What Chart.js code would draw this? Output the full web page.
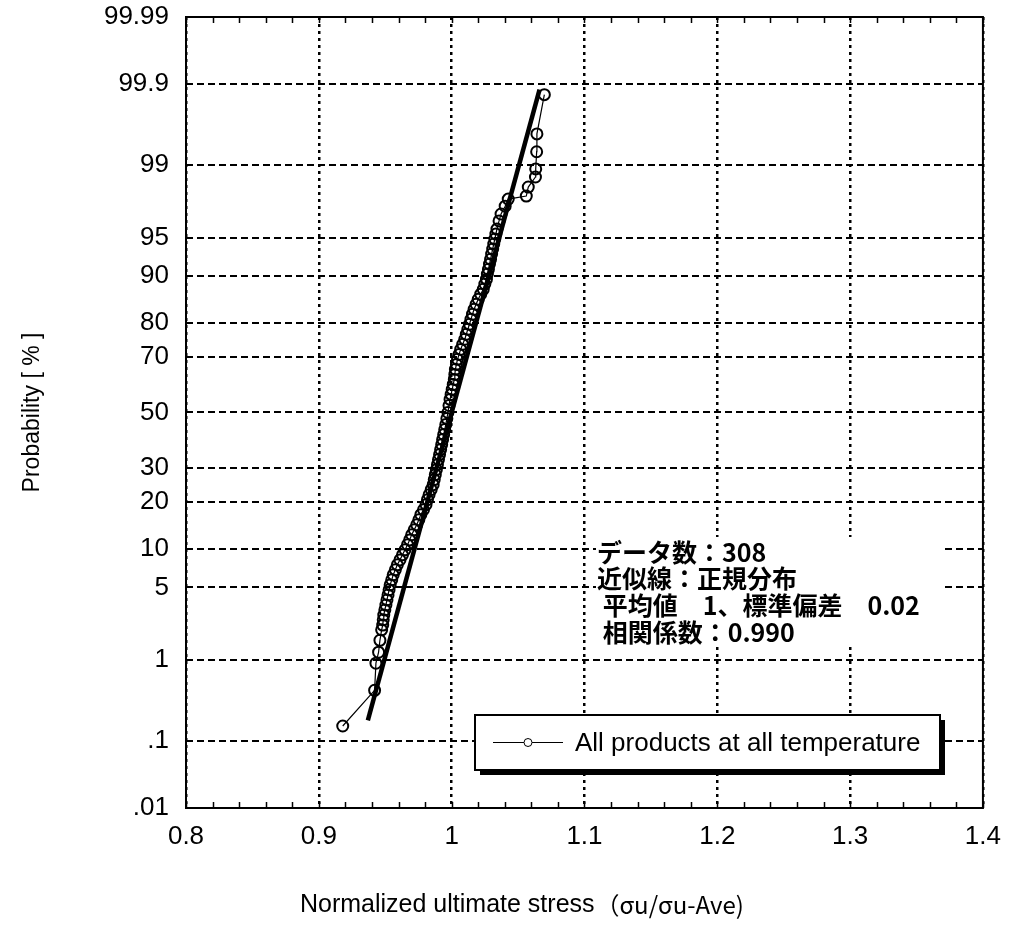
<!DOCTYPE html>
<html>
<head>
<meta charset="utf-8">
<script src="https://cdn.jsdelivr.net/npm/chart.js@4.4.0/dist/chart.umd.min.js"></script>
<style>
  html, body { margin: 0; padding: 0; background: #fff; }
  canvas { display: block; }
</style>
</head>
<body>
<canvas id="probChart" width="1014" height="946"></canvas>
<script>
// normalized ultimate stress, sorted, with its cumulative probability [%]
const stressValues = [
  0.918, 0.942, 0.943, 0.945, 0.946, 0.9473, 0.9481, 0.9485, 0.9489, 0.9497,
  0.9505, 0.9513, 0.9521, 0.9529, 0.9537, 0.9549, 0.9560, 0.9576, 0.9591, 0.9611,
  0.9630, 0.9649, 0.9668, 0.9684, 0.9699, 0.9718, 0.9737, 0.9753, 0.9768, 0.9788,
  0.9807, 0.9818, 0.9830, 0.9846, 0.9861, 0.9869, 0.9877, 0.9885, 0.9893, 0.9901,
  0.9909, 0.9917, 0.9925, 0.9932, 0.9940, 0.9948, 0.9956, 0.9964, 0.9972, 0.9980,
  0.9988, 0.9996, 1.0004, 1.0012, 1.0020, 1.0024, 1.0028, 1.0036, 1.0044, 1.0056,
  1.0068, 1.0083, 1.0099, 1.0110, 1.0122, 1.0134, 1.0145, 1.0157, 1.0169, 1.0184,
  1.0200, 1.0219, 1.0238, 1.0250, 1.0262, 1.0269, 1.0277, 1.0285, 1.0293, 1.0301,
  1.0309, 1.0317, 1.0325, 1.0333, 1.0341, 1.0357, 1.0372, 1.0403, 1.0426, 1.0562,
  1.0577, 1.0631, 1.0633, 1.0640, 1.0642, 1.0698
];
const probValues = [
  0.16, 0.45, 0.92, 1.21, 1.61, 2.05, 2.28, 2.56, 2.84, 3.17,
  3.51, 3.90, 4.31, 4.77, 5.25, 5.78, 6.34, 6.95, 7.60, 8.29,
  9.04, 9.83, 10.69, 11.55, 12.52, 13.49, 14.56, 15.66, 16.84, 18.03,
  19.30, 20.61, 21.97, 23.42, 24.88, 26.40, 27.94, 29.55, 31.18, 32.91,
  34.61, 36.37, 38.14, 39.95, 41.76, 43.65, 45.51, 47.73, 50.00, 52.63,
  54.89, 56.75, 58.59, 60.40, 62.20, 63.97, 65.76, 67.45, 69.15, 70.76,
  72.36, 73.93, 75.45, 76.88, 78.30, 79.64, 80.95, 82.23, 83.42, 84.57,
  85.65, 86.70, 87.67, 88.64, 89.50, 90.35, 91.10, 91.86, 92.52, 93.19,
  93.78, 94.34, 94.85, 95.33, 95.77, 96.42, 96.90, 97.38, 97.76, 97.91,
  98.30, 98.66, 98.90, 99.29, 99.56, 99.86
];

// normal fit
const sampleCount = 308;
const fitMean = 1;
const fitSd = 0.0218;
const corrCoef = 0.990;
const fitProbRange = [0.19, 99.88];

const xTicks = [0.8, 0.9, 1, 1.1, 1.2, 1.3, 1.4];
const yTicks = [0.01, 0.1, 1, 5, 10, 20, 30, 50, 70, 80, 90, 95, 99, 99.9, 99.99];
const yTickLabels = ['.01', '.1', '1', '5', '10', '20', '30', '50', '70', '80', '90', '95', '99', '99.9', '99.99'];
const seriesLabel = 'All products at all temperature';
const yTitle = 'Probability [ % ]';
const xTitleMain = 'Normalized ultimate stress ';
const xTitleUnit = '（σu/σu-Ave)';

// inverse of the standard normal CDF (Acklam)
function probit(p) {
  const a = [-3.969683028665376e+01, 2.209460984245205e+02, -2.759285104469687e+02, 1.383577518672690e+02, -3.066479806614716e+01, 2.506628277459239e+00];
  const b = [-5.447609879822406e+01, 1.615858368580409e+02, -1.556989798598866e+02, 6.680131188771972e+01, -1.328068155288572e+01];
  const c = [-7.784894002430293e-03, -3.223964580411365e-01, -2.400758277161838e+00, -2.549732539343734e+00, 4.374664141464968e+00, 2.938163982698783e+00];
  const d = [7.784695709041462e-03, 3.224671290700398e-01, 2.445134137142996e+00, 3.754408661907416e+00];
  const pLow = 0.02425;
  let q, r;
  if (p < pLow) {
    q = Math.sqrt(-2 * Math.log(p));
    return (((((c[0]*q + c[1])*q + c[2])*q + c[3])*q + c[4])*q + c[5]) / ((((d[0]*q + d[1])*q + d[2])*q + d[3])*q + 1);
  }
  if (p <= 1 - pLow) {
    q = p - 0.5; r = q * q;
    return (((((a[0]*r + a[1])*r + a[2])*r + a[3])*r + a[4])*r + a[5])*q / (((((b[0]*r + b[1])*r + b[2])*r + b[3])*r + b[4])*r + 1);
  }
  q = Math.sqrt(-2 * Math.log(1 - p));
  return -(((((c[0]*q + c[1])*q + c[2])*q + c[3])*q + c[4])*q + c[5]) / ((((d[0]*q + d[1])*q + d[2])*q + d[3])*q + 1);
}

function normCdf(z) {
  const t = 1 / (1 + 0.2316419 * Math.abs(z));
  const poly = t * (0.319381530 + t * (-0.356563782 + t * (1.781477937 + t * (-1.821255978 + t * 1.330274429))));
  const tail = Math.exp(-z * z / 2) / Math.sqrt(2 * Math.PI) * poly;
  return z >= 0 ? 1 - tail : tail;
}

// normal probability paper axis, values in percent
class ProbitScale extends Chart.Scale {
  static id = 'probit';
  static defaults = {};

  determineDataLimits() {
    this.min = this.options.min;
    this.max = this.options.max;
  }
  buildTicks() {
    return yTicks.map(v => ({ value: v }));
  }
  configure() {
    super.configure();
    this._zStart = probit(this.min / 100);
    this._zEnd = probit(this.max / 100);
  }
  getPixelForValue(v) {
    return this.getPixelForDecimal((probit(v / 100) - this._zStart) / (this._zEnd - this._zStart));
  }
  getValueForPixel(px) {
    return normCdf(this._zStart + this.getDecimalForPixel(px) * (this._zEnd - this._zStart)) * 100;
  }
  getLabelForValue(v) {
    return String(v);
  }
}
Chart.register(ProbitScale);

const points = stressValues.map((x, i) => ({ x: x, y: probValues[i] }));
const fitLine = fitProbRange.map(p => ({ x: fitMean + fitSd * probit(p / 100), y: p }));

const annotationLines = [
  'データ数：' + sampleCount,
  '近似線：正規分布',
  ' 平均値　' + fitMean + '、標準偏差　' + fitSd.toFixed(2),
  ' 相関係数：' + corrCoef.toFixed(3)
];

const decorPlugin = {
  id: 'decor',
  afterDraw(chart) {
    const ctx = chart.ctx;
    const ca = chart.chartArea;
    const xs = chart.scales.x;
    ctx.save();

    // stats box
    const bx = ca.left + 410, by = ca.top + 520;
    ctx.fillStyle = '#fff';
    ctx.fillRect(bx, by, 349, 108);
    ctx.fillStyle = '#000';
    ctx.font = 'bold 25px "Noto Sans CJK JP"';
    ctx.textAlign = 'left';
    ctx.textBaseline = 'middle';
    annotationLines.forEach((t, i) => {
      ctx.fillText(t, bx + 1, ca.top + 535 + i * 26.7);
    });

    // legend with shadow
    const lx = ca.left + 289, ly = ca.top + 698, lw = 465, lh = 55;
    ctx.fillStyle = '#000';
    ctx.fillRect(lx + 5, ly + 5, lw, lh);
    ctx.fillStyle = '#fff';
    ctx.fillRect(lx, ly, lw, lh);
    ctx.strokeStyle = '#000';
    ctx.lineWidth = 2;
    ctx.strokeRect(lx, ly, lw, lh);
    const ds = chart.data.datasets[0];
    const my = ly + lh / 2;
    ctx.lineWidth = 1;
    ctx.beginPath();
    ctx.moveTo(lx + 18, my);
    ctx.lineTo(lx + 88, my);
    ctx.stroke();
    ctx.beginPath();
    ctx.arc(lx + 53, my, 4, 0, Math.PI * 2);
    ctx.fillStyle = '#fff';
    ctx.fill();
    ctx.stroke();
    ctx.fillStyle = '#000';
    ctx.font = '26px "Liberation Sans", Arial, sans-serif';
    ctx.fillText(ds.label, lx + 100, my + 1);

    // frame
    ctx.lineWidth = 2;
    ctx.strokeRect(ca.left, ca.top, ca.right - ca.left, ca.bottom - ca.top);

    // minor ticks on top and bottom edges
    ctx.lineWidth = 1.5;
    ctx.beginPath();
    for (let v = xs.min; v <= xs.max + 1e-9; v += 0.02) {
      const px = Math.round(xs.getPixelForValue(v)) + 0.5;
      ctx.moveTo(px, ca.top);
      ctx.lineTo(px, ca.top + 6);
      ctx.moveTo(px, ca.bottom);
      ctx.lineTo(px, ca.bottom - 6);
    }
    ctx.stroke();

    // x axis title
    ctx.textBaseline = 'middle';
    ctx.font = '25px "Liberation Sans", Arial, sans-serif';
    const tx = ca.left + 114, ty = 905;
    ctx.fillText(xTitleMain, tx, ty);
    const w = ctx.measureText(xTitleMain).width;
    ctx.font = '24px "Noto Sans CJK JP"';
    ctx.fillText(xTitleUnit, tx + w - 6, ty);
    ctx.restore();
  }
};

new Chart(document.getElementById('probChart').getContext('2d'), {
  type: 'scatter',
  data: {
    datasets: [{
      label: seriesLabel,
      data: points,
      showLine: true,
      borderColor: '#000',
      borderWidth: 1.2,
      pointRadius: 5.5,
      pointBorderWidth: 2,
      pointBackgroundColor: 'rgba(0,0,0,0)',
      pointBorderColor: '#000',
      order: 0
    }, {
      label: 'fit',
      data: fitLine,
      showLine: true,
      borderColor: '#000',
      borderWidth: 4.5,
      pointRadius: 0,
      order: -1
    }]
  },
  options: {
    responsive: false,
    devicePixelRatio: 1,
    animation: false,
    events: [],
    layout: { padding: { left: 0, right: 30, top: 17, bottom: 0 } },
    plugins: {
      legend: { display: false },
      tooltip: { enabled: false }
    },
    scales: {
      x: {
        type: 'linear',
        min: 0.8,
        max: 1.4,
        afterBuildTicks: s => { s.ticks = xTicks.map(v => ({ value: v })); },
        afterFit: s => { s.height = 138; },
        ticks: {
          color: '#000',
          padding: 13,
          maxRotation: 0,
          autoSkip: false,
          font: { family: '"Liberation Sans", Arial, sans-serif', size: 26 },
          callback: v => String(v)
        },
        grid: { color: '#000', lineWidth: 2.5, drawTicks: false, borderDash: [3, 4] },
        border: { display: false, dash: [3, 4] }
      },
      y: {
        type: 'probit',
        position: 'left',
        min: 0.01,
        max: 99.99,
        afterFit: s => { s.width = 186; s.paddingTop = 0; s.paddingBottom = 0; },
        ticks: {
          color: '#000',
          padding: 17,
          autoSkip: false,
          font: { family: '"Liberation Sans", Arial, sans-serif', size: 26 },
          callback: (v, i) => yTickLabels[i]
        },
        grid: { color: '#000', lineWidth: 2, drawTicks: false, borderDash: [7, 4] },
        border: { display: false, dash: [7, 4] },
        title: {
          display: true,
          text: yTitle,
          color: '#000',
          padding: { top: 19, bottom: 0 },
          font: { family: '"Liberation Sans", Arial, sans-serif', size: 23, weight: 'normal' }
        }
      }
    }
  },
  plugins: [decorPlugin]
});
</script>
</body>
</html>
